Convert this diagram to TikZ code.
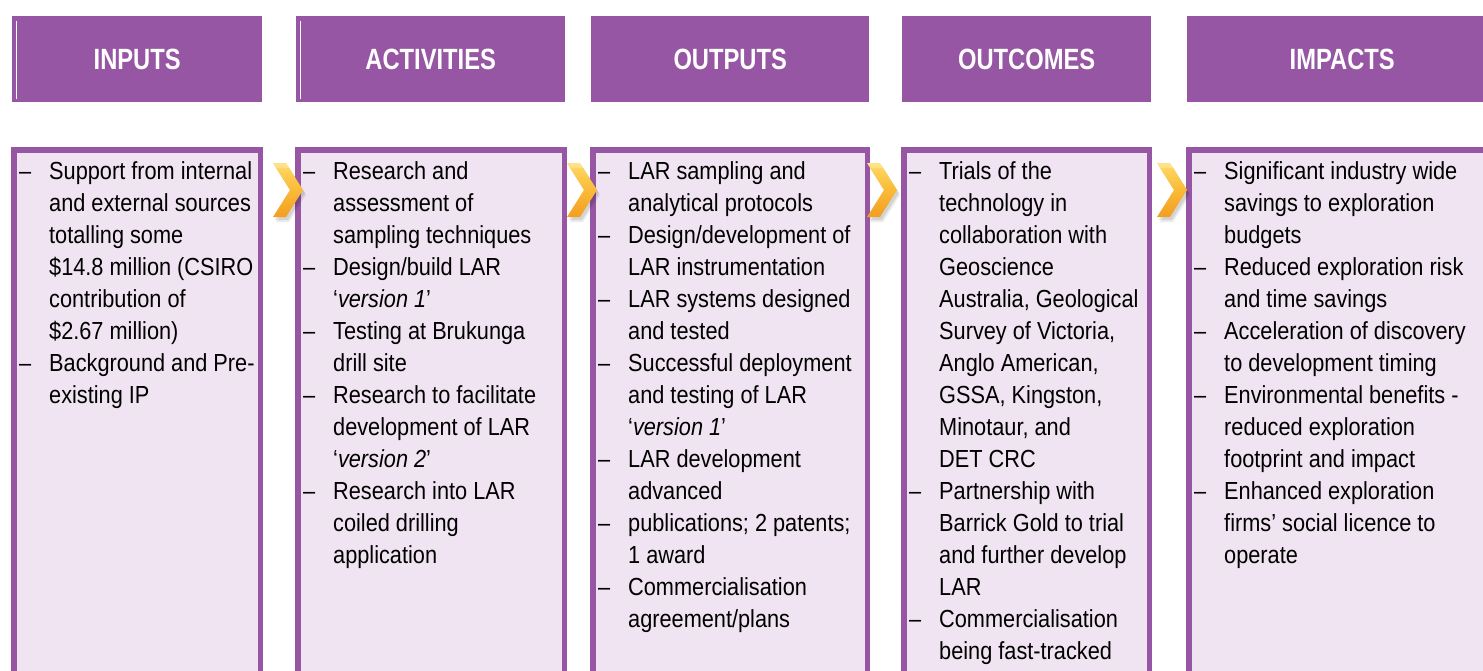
\documentclass[tikz,border=0pt]{standalone}
\usepackage{fontspec}
\newfontfamily\bodyfont{Liberation Sans}[FakeStretch=0.88]
\newfontfamily\headfont{Liberation Sans}[FakeStretch=0.81]
\definecolor{plum}{RGB}{150,86,163}
\definecolor{lavender}{RGB}{241,228,242}
\definecolor{chevlight}{RGB}{255,218,100}
\definecolor{chevmid}{RGB}{250,186,55}
\definecolor{chevdark}{RGB}{242,158,35}

% bullet column: en dash, then a hanging indent for wrapped lines
\newcommand\itm{\hbox to 30pt{–\hfil}}
\newcommand\cnt{\hbox to 30pt{\hfil}}

% chevron between two columns, #1 = left edge
\newcommand\chevron[1]{%
  \begin{scope}[shift={(#1,0)}]
    \fill[black,opacity=0.08] (3,168)--(16,168)--(33,195)--(16,222)--(3,222)--(20,195)--cycle;
    \fill[black,opacity=0.10] (2,166)--(15,166)--(32,193)--(15,220)--(2,220)--(19,193)--cycle;
    \shade[top color=chevlight,bottom color=chevmid] (0,163)--(13,163)--(30,190)--(17,190)--cycle;
    \shade[top color=chevmid,bottom color=chevdark] (17,190)--(30,190)--(13,217)--(0,217)--cycle;
    \fill[white,opacity=0.25] (0,163)--(13,163)--(17,168)--(4,168)--cycle;
  \end{scope}}

\begin{document}
\begin{tikzpicture}[x=1pt,y=-1pt,
  header/.style={fill=plum,inner sep=0,anchor=north west,minimum height=86pt,
    text=white,font=\headfont\bfseries\fontsize{29.3}{34}\selectfont},
  bodybox/.style={draw=plum,line width=5.5pt,fill=lavender,inner sep=0,
    anchor=north west,minimum height=560pt},
  bodytext/.style={inner sep=0,anchor=north west,align=left,
    font=\bodyfont\fontsize{24.7}{32}\selectfont},
  edgeline/.style={draw=white,line width=1pt}]

\useasboundingbox (0,0) rectangle (1483,670);
\clip (0,0) rectangle (1483,670);

% column headings
\node[header,minimum width=250pt] (h1) at (12,16)   {\raisebox{-1.5pt}{INPUTS}};
\node[header,minimum width=269pt] (h2) at (296,16)  {\raisebox{-1.5pt}{ACTIVITIES}};
\node[header,minimum width=278pt] (h3) at (591,16)  {\raisebox{-1.5pt}{OUTPUTS}};
\node[header,minimum width=249pt] (h4) at (902,16)  {\raisebox{-1.5pt}{OUTCOMES}};
\node[header,minimum width=310pt] (h5) at (1187,16) {\raisebox{-1.5pt}{IMPACTS}};
\draw[edgeline] (16,21) -- (16,99);
\draw[edgeline] (300,21) -- (300,99);

% column bodies; the anchor sits on the outer edge of the border
\node[bodybox,minimum width=246.5pt] (b1) at (11,147)   {};
\node[bodybox,minimum width=266.5pt] (b2) at (295,147)  {};
\node[bodybox,minimum width=274.5pt] (b3) at (590,147)  {};
\node[bodybox,minimum width=245.5pt] (b4) at (901,147)  {};
\node[bodybox,minimum width=310pt]   (b5) at (1186,147) {};

% column texts
\node[bodytext] (t1) at (19,153.5) {\rule{0pt}{26pt}\itm Support from internal\\
\cnt and external sources\\
\cnt totalling some\\
\cnt \$14.8 million (CSIRO\\
\cnt contribution of\\
\cnt \$2.67 million)\\
\itm Background and Pre-\\
\cnt existing IP};

\node[bodytext] (t2) at (303,153.5) {\rule{0pt}{26pt}\itm Research and\\
\cnt assessment of\\
\cnt sampling techniques\\
\itm Design/build LAR\\
\cnt ‘\textit{version 1}’\\
\itm Testing at Brukunga\\
\cnt drill site\\
\itm Research to facilitate\\
\cnt development of LAR\\
\cnt ‘\textit{version 2}’\\
\itm Research into LAR\\
\cnt coiled drilling\\
\cnt application};

\node[bodytext] (t3) at (598,153.5) {\rule{0pt}{26pt}\itm LAR sampling and\\
\cnt analytical protocols\\
\itm Design/development of\\
\cnt LAR instrumentation\\
\itm LAR systems designed\\
\cnt and tested\\
\itm Successful deployment\\
\cnt and testing of LAR\\
\cnt ‘\textit{version 1}’\\
\itm LAR development\\
\cnt advanced\\
\itm publications; 2 patents;\\
\cnt 1 award\\
\itm Commercialisation\\
\cnt agreement/plans};

\node[bodytext] (t4) at (909,153.5) {\rule{0pt}{26pt}\itm Trials of the\\
\cnt technology in\\
\cnt collaboration with\\
\cnt Geoscience\\
\cnt Australia, Geological\\
\cnt Survey of Victoria,\\
\cnt Anglo American,\\
\cnt GSSA, Kingston,\\
\cnt Minotaur, and\\
\cnt DET CRC\\
\itm Partnership with\\
\cnt Barrick Gold to trial\\
\cnt and further develop\\
\cnt LAR\\
\itm Commercialisation\\
\cnt being fast-tracked};

\node[bodytext] (t5) at (1194,153.5) {\rule{0pt}{26pt}\itm Significant industry wide\\
\cnt savings to exploration\\
\cnt budgets\\
\itm Reduced exploration risk\\
\cnt and time savings\\
\itm Acceleration of discovery\\
\cnt to development timing\\
\itm Environmental benefits -\\
\cnt reduced exploration\\
\cnt footprint and impact\\
\itm Enhanced exploration\\
\cnt firms’ social licence to\\
\cnt operate};

% chevrons between the columns
\chevron{273}
\chevron{567}
\chevron{867}
\chevron{1157}
\end{tikzpicture}
\end{document}
